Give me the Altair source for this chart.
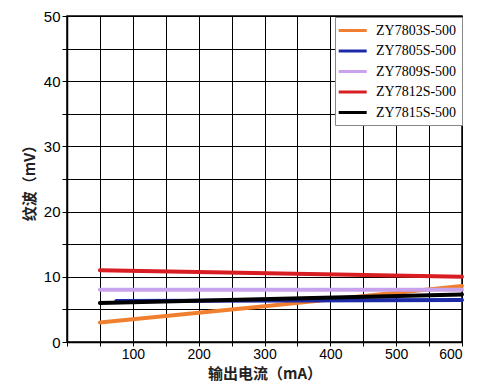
import altair as alt
import pandas as pd

series = ["ZY7803S-500", "ZY7805S-500", "ZY7809S-500", "ZY7812S-500", "ZY7815S-500"]
colors = ["#F08030", "#1C2AA8", "#C8A2EC", "#D81E22", "#000000"]

x_orange = [50, 300, 600]
y_orange = [3.0, 5.5, 8.6]
x_blue = [75, 600]
y_blue = [6.3, 6.45]
x_lav = [50, 600]
y_lav = [8.0, 8.0]
x_red = [50, 600]
y_red = [11.0, 10.0]
x_black = [50, 600]
y_black = [6.0, 7.3]

rows = []
for name, xs, ys in zip(series, [x_orange, x_blue, x_lav, x_red, x_black],
                        [y_orange, y_blue, y_lav, y_red, y_black]):
    for a, b in zip(xs, ys):
        rows.append({"series": name, "x": a, "y": b})
df = pd.DataFrame(rows)

x_ticks = list(range(0, 601, 50))
y_ticks = list(range(0, 51, 5))

chart = alt.Chart(df).mark_line(strokeWidth=4, strokeCap="round").encode(
    x=alt.X("x:Q", scale=alt.Scale(domain=[0, 600], nice=False),
            axis=alt.Axis(values=x_ticks, title="输出电流（mA）",
                          labelExpr="datum.value % 100 == 0 && datum.value > 0 ? datum.label : ''",
                          labelFont="Liberation Sans", labelFontSize=14, labelColor="#000",
                          labelPadding=1,
                          titleFont="Noto Sans CJK SC", titleFontSize=15, titleFontWeight="bold",
                          titleColor="#222", titleY=24, titleBaseline="top",
                          domainColor="#000", domainWidth=1.5, tickColor="#000", tickSize=4,
                          gridColor="#000", gridWidth=1, gridOpacity=1)),
    y=alt.Y("y:Q", scale=alt.Scale(domain=[0, 50], nice=False),
            axis=alt.Axis(values=y_ticks, title="纹波（mV）",
                          labelExpr="datum.value % 10 == 0 ? datum.label : ''",
                          labelFont="Liberation Sans", labelFontSize=15, labelColor="#000",
                          titleFont="Noto Sans CJK SC", titleFontSize=15, titleFontWeight="bold",
                          titleColor="#222", titlePadding=6,
                          domainColor="#000", domainWidth=1.5, tickColor="#000", tickSize=5,
                          gridColor="#000", gridWidth=1, gridOpacity=1)),
    color=alt.Color("series:N", scale=alt.Scale(domain=series, range=colors),
                    legend=alt.Legend(title=None, orient="none", legendX=268, legendY=1,
                                      symbolType="M-1.4,0H2.6", symbolStrokeWidth=3, symbolSize=196,
                                      labelOffset=19,
                                      labelFont="Liberation Serif", labelFontSize=14,
                                      labelColor="#000", rowPadding=4.5,
                                      fillColor="white", strokeColor="#888", padding=5)),
).properties(
    width=395, height=326,
    autosize=alt.AutoSizeParams(type="none"),
    padding={"left": 59, "top": 8, "right": 22, "bottom": 40},
).configure_view(stroke="#000", strokeWidth=1.5)

chart.save("out.html", embed_options={"renderer": "svg", "actions": False})
